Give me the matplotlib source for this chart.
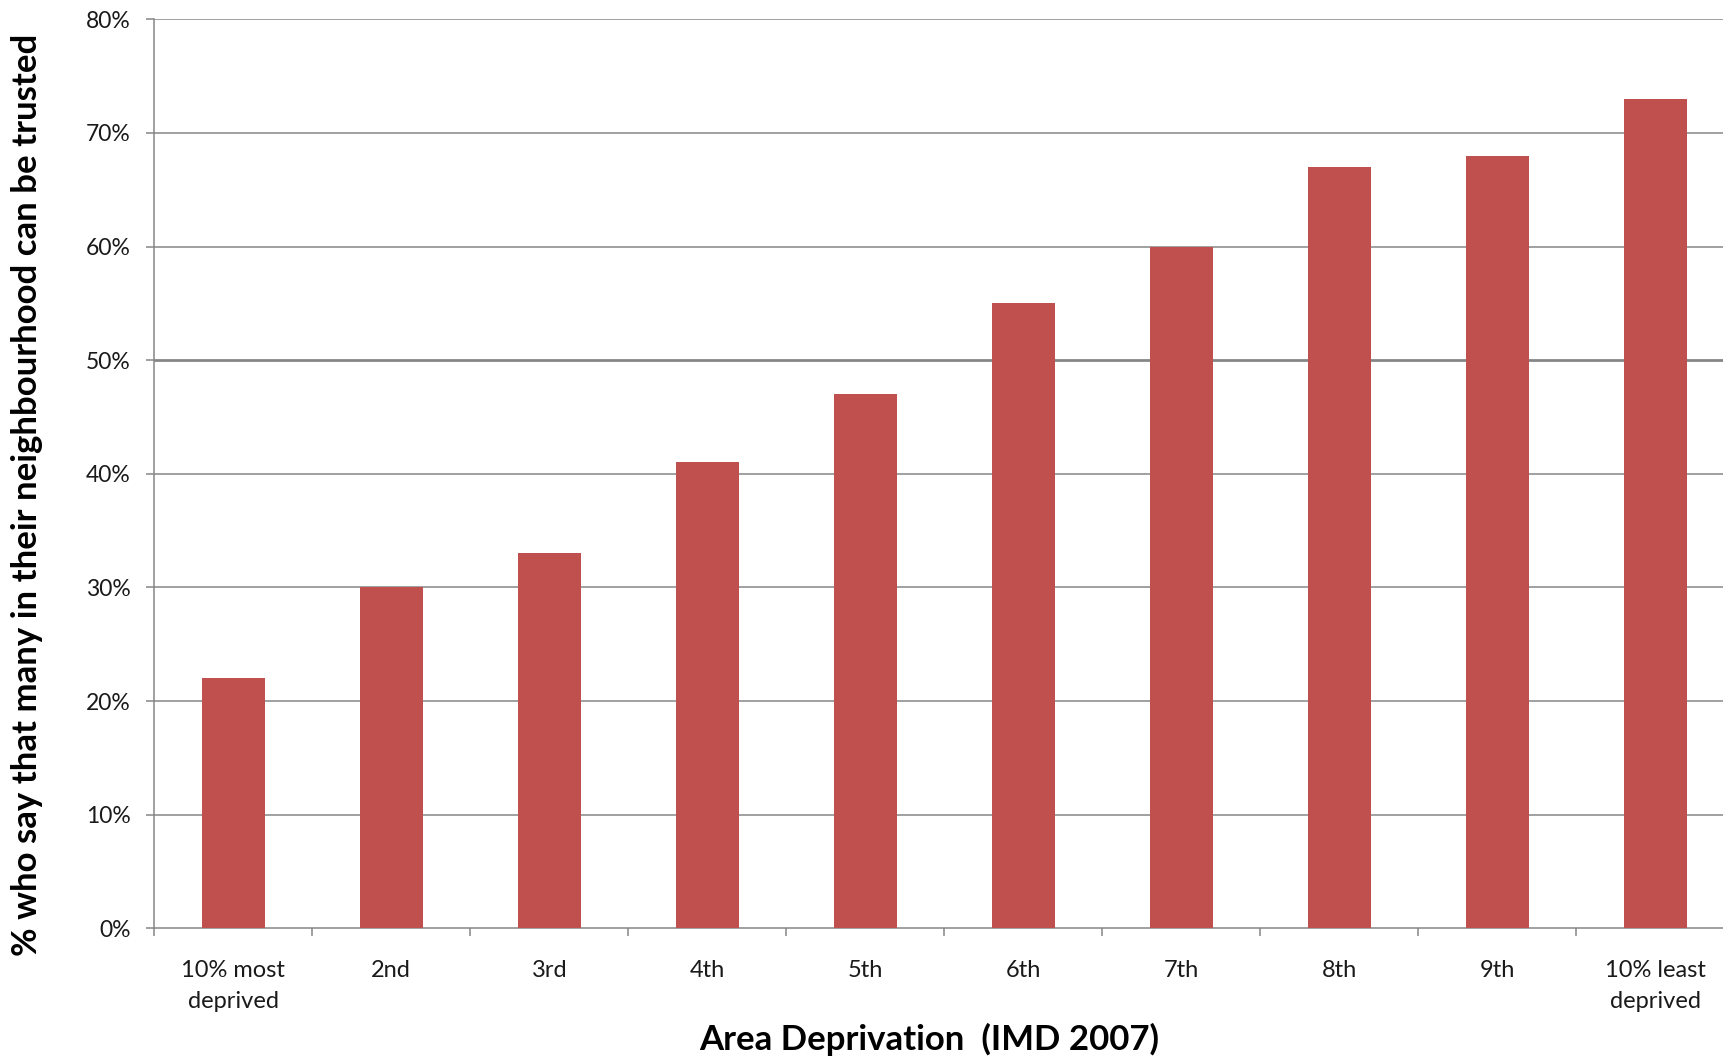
import matplotlib.pyplot as plt
import numpy as np
from matplotlib.ticker import PercentFormatter

deciles = ["10% most\ndeprived", "2nd", "3rd", "4th", "5th",
           "6th", "7th", "8th", "9th", "10% least\ndeprived"]
trusted = [22, 30, 33, 41, 47, 55, 60, 67, 68, 73]

bar_color = "#C0504D"
grid_color = "#868686"
text_color = "#1a1a1a"

plt.rcParams["font.family"] = ["Lato", "DejaVu Sans"]

fig = plt.figure(figsize=(17.24, 10.58), dpi=100)
# plot area runs slightly past the right edge of the canvas
ax = fig.add_axes([0.0895, 0.1226, 0.9165, 0.8592])

x = np.arange(len(trusted))
ax.bar(x, trusted, width=0.4, color=bar_color, zorder=3)

ax.set_xlim(-0.5, len(trusted) - 0.5)
ax.set_ylim(0, 80)
ax.set_yticks(np.arange(0, 81, 10))
ax.yaxis.set_major_formatter(PercentFormatter(decimals=0))

for y in range(10, 81, 10):
    ax.axhline(y, color=grid_color, lw=2.0 if y == 50 else 1.1, zorder=1)

ax.set_xticks(x)
ax.set_xticklabels(deciles, linespacing=1.55)
ax.set_xticks(np.arange(-0.5, len(trusted), 1), minor=True)
ax.tick_params(axis="x", which="major", length=0, pad=23,
               labelsize=17, labelcolor=text_color)
ax.tick_params(axis="x", which="minor", length=6, width=1.1,
               color=grid_color, direction="out")
ax.tick_params(axis="y", length=6, width=1.1, color=grid_color,
               pad=11, labelsize=16.5, labelcolor=text_color)

for side in ("top", "right"):
    ax.spines[side].set_visible(False)
for side in ("left", "bottom"):
    ax.spines[side].set_color(grid_color)
    ax.spines[side].set_linewidth(1.1)

fig.text(0.539, 0.018, "Area Deprivation  (IMD 2007)", ha="center",
         va="center", fontsize=25, fontweight="bold", color="black")
fig.text(0.0155, 0.532,
         "% who say that many in their neighbourhood can be trusted",
         ha="center", va="center", rotation=90, fontsize=25,
         fontweight="bold", color="black")

fig.savefig("out.png", dpi=100)
